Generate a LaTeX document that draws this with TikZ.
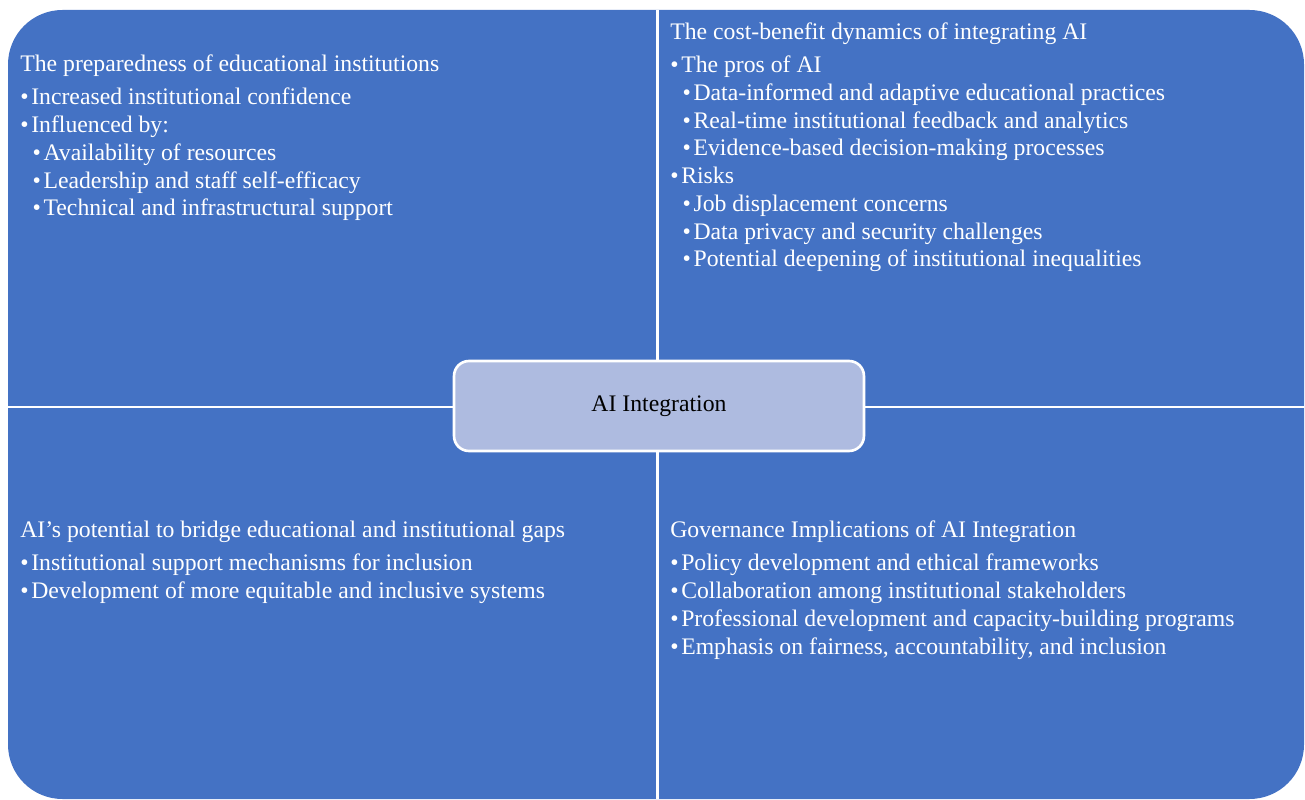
\documentclass[tikz,border=0pt]{standalone}
\usepackage{fontspec}
\setmainfont{Liberation Serif}
\usepackage{tikz}
\usetikzlibrary{positioning}
\definecolor{quadblue}{RGB}{68,114,196}
\definecolor{hubfill}{RGB}{174,187,224}
\newcommand{\bul}{\textbullet\hspace{1.5pt}}
\newcommand{\subbul}{\hspace{7pt}\textbullet\hspace{1.5pt}}

\begin{document}
\begin{tikzpicture}[
  x=0.02cm, y=-0.02cm,
  quadtext/.style={anchor=base west, inner sep=0pt, align=left, text=white, font=\fontsize{13.5}{15.8}\selectfont},
  hub/.style={rounded corners=8.5pt, fill=hubfill, draw=white, line width=1.5pt, minimum width=8.2cm, minimum height=1.8cm, font=\fontsize{13.5}{15.8}\selectfont},
  divider/.style={white, line width=1.7pt}
]
  \useasboundingbox (0,0) rectangle (1305,800);
  \fill[quadblue, rounded corners=31pt] (8,10) rectangle (1304,799);

  \coordinate (top) at (657,10);
  \coordinate (bottom) at (657,799);
  \coordinate (left) at (8,407);
  \coordinate (right) at (1304,407);
  \draw[divider] (top) -- (bottom);
  \draw[divider] (left) -- (right);

  \node[hub] (hub) at (659,406) {AI Integration};

  % text blocks sit on the baseline of their last line
  \node[quadtext] (prep) at (20,216)
    {The preparedness of educational institutions\\[3pt]
     \bul Increased institutional confidence\\
     \bul Influenced by:\\
     \subbul Availability of resources\\
     \subbul Leadership and staff self-efficacy\\
     \subbul Technical and infrastructural support};

  \node[quadtext] (cost) at (670,267)
    {The cost-benefit dynamics of integrating AI\\[3pt]
     \bul The pros of AI\\
     \subbul Data-informed and adaptive educational practices\\
     \subbul Real-time institutional feedback and analytics\\
     \subbul Evidence-based decision-making processes\\
     \bul Risks\\
     \subbul Job displacement concerns\\
     \subbul Data privacy and security challenges\\
     \subbul Potential deepening of institutional inequalities};

  \node[quadtext] (gaps) at (20,598)
    {AI’s potential to bridge educational and institutional gaps\\[3pt]
     \bul Institutional support mechanisms for inclusion\\
     \bul Development of more equitable and inclusive systems};

  \node[quadtext] (gov) at (670,654)
    {Governance Implications of AI Integration\\[3pt]
     \bul Policy development and ethical frameworks\\
     \bul Collaboration among institutional stakeholders\\
     \bul Professional development and capacity-building programs\\
     \bul Emphasis on fairness, accountability, and inclusion};
\end{tikzpicture}
\end{document}
